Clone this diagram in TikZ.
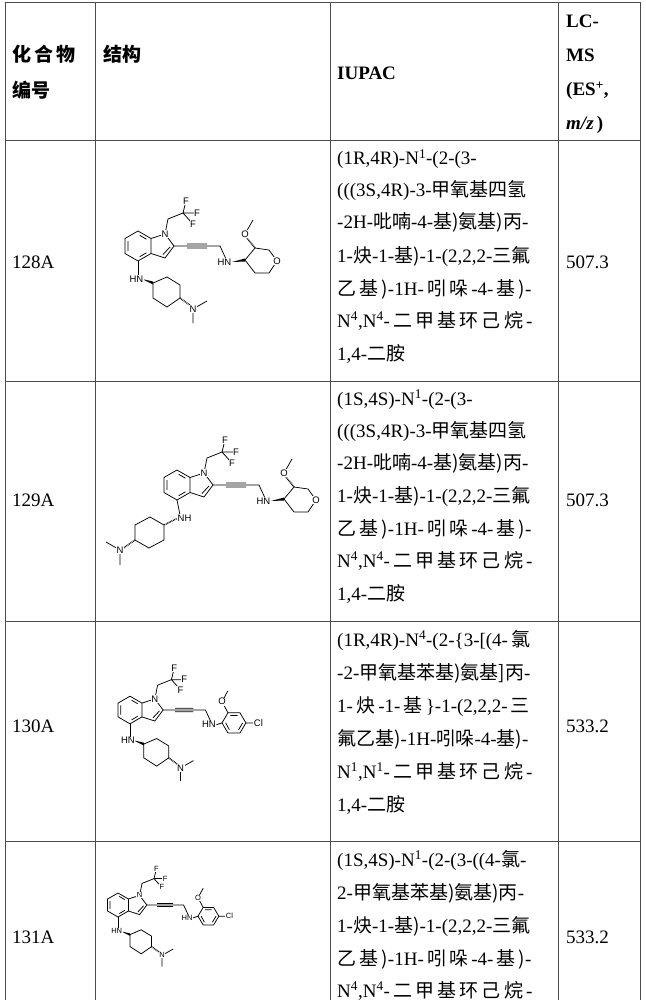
\documentclass[tikz,border=0pt]{standalone}
\usepackage{fontspec}
\setmainfont{Liberation Serif}
\setsansfont{Liberation Sans}
\newfontfamily\cjk{Noto Sans CJK SC}
\newcommand\C[1]{{\cjk #1}}
\newcommand\sps[1]{\textsuperscript{#1}}
\newcommand\afs{\fontsize{9.5}{9.5}\selectfont}
\tikzset{
 atom/.style={fill=white,inner sep=0.5pt,font=\sffamily\afs},
 bond/.style={line width=0.75pt},
 grid/.style={line width=0.6pt,draw=black!70},
 txt/.style={anchor=base west,inner sep=0pt,font=\fontsize{19}{19}\selectfont},
 hdr/.style={anchor=base west,inner sep=0pt,font=\bfseries\fontsize{19}{19}\selectfont},
}
\newcommand\molcore{%
 \draw[bond] (0,-15)--(-13,-7.5)--(-13,7.5)--(0,15)--(13,7.5)--(13,-7.5)--cycle;
 \draw[bond] (-10,-5)--(-10,5) (1.7,10.7)--(8.4,6.8) (8.4,-6.8)--(1.7,-10.7);
 \draw[bond] (13,-7.5)--(27,-12)--(36,0)--(27,12)--(13,7.5) (32,1)--(25,8.5);
 \draw[bond] (27,-12)--(30,-27)--(45,-33) (45,-33)--(48,-45) (45,-33)--(58,-33) (45,-33)--(54,-23);
 \draw[bond] (36,0)--(49,0) (49,0)--(69,0) (49,-2)--(69,-2) (49,2)--(69,2) (69,0)--(82,0)--(88,13);
 \node[atom] (nA) at (27,-12) {N};
 \node[atom] (fA) at (48,-45) {F};
 \node[atom] (fB) at (59,-33) {F};
 \node[atom] (fC) at (55,-22) {F};
 \node[atom,anchor=east] (nT) at (94,16) {HN};
}
\newcommand\cycright{%
 \draw[bond] (0,15)--(0,30);
 \fill (4,33)--(15,35.5)--(15,38.5)--cycle;
 \draw[bond] (15,37)--(29,31)--(42,39)--(42,52)--(29,61)--(15,52)--cycle;
 \draw[bond,dash pattern=on 0.8pt off 0.8pt,line width=1.5pt] (42,52)--(53,60);
 \draw[bond] (55,63)--(69,55) (55,63)--(55,77);
 \node[atom,anchor=east] (nC) at (6,33) {HN};
 \node[atom] (nM) at (55,63) {N};
}
\newcommand\cycleft{%
 \draw[bond] (0,15)--(3,30);
 \draw[bond,dash pattern=on 0.8pt off 0.8pt,line width=1.5pt] (1,33)--(-13,40);
 \draw[bond] (-13,40)--(-27,32)--(-42,40)--(-42,55)--(-28,63)--(-13,55)--cycle;
 \draw[bond,dash pattern=on 0.8pt off 0.8pt,line width=1.5pt] (-42,55)--(-55,64);
 \draw[bond] (-57,65)--(-71,57) (-57,65)--(-57,80);
 \node[atom,anchor=west] (nC) at (0,33) {NH};
 \node[atom] (nM) at (-57,65) {N};
}
\newcommand\pyran{%
 \fill (94,16)--(107,12.5)--(107,15.5)--cycle;
 \draw[bond] (107,14)--(117,2)--(131,4)--(139,15)--(131,27)--(117,27)--cycle;
 \draw[bond,dash pattern=on 0.8pt off 0.8pt,line width=1.5pt] (117,2)--(108,-9);
 \draw[bond] (107,-12)--(115,-26);
 \node[atom] (oR) at (139,15) {O};
 \node[atom] (oM) at (107,-12) {O};
}
\newcommand\aryl{%
 \draw[bond] (94,16)--(100,14);
 \draw[bond] (100,14)--(106.5,3)--(119.5,3)--(126,14)--(119.5,25)--(106.5,25)--cycle;
 \draw[bond] (109,6)--(117,6) (122.5,14)--(118,21.5) (104,14)--(108,21.5);
 \draw[bond] (106.5,3)--(100,-9)--(106.5,-21) (126,14)--(136,14);
 \node[atom] (oM) at (100,-9) {O};
 \node[atom,anchor=west] (cl) at (134,14) {Cl};
}
\begin{document}
\begin{tikzpicture}[x=1pt,y=-1pt]
\useasboundingbox (0,0) rectangle (645,1000);
% grid
\draw[grid] (5,2)--(640,2) (5,140)--(640,140) (5,381)--(640,381) (5,621)--(640,621) (5,841)--(640,841);
\draw[grid] (5,2)--(5,1000) (95,2)--(95,1000) (330,2)--(330,1000) (558,2)--(558,1000) (640,2)--(640,1000);
% header
\node[hdr] (h1) at (12,62) {\C{化\,合\,物}};
\node[hdr] (h1b) at (12,98) {\C{编号}};
\node[hdr] (h2) at (103,62) {\C{结构}};
\node[hdr] (h3) at (337,80) {IUPAC};
\node[hdr] (h4) at (566,28) {LC-};
\node[hdr] (h4b) at (566,62) {MS};
\node[hdr] (h4c) at (566,96) {(ES\sps{+},};
\node[hdr] (h4d) at (566,130) {\textit{m/z}\,)};
% row 1
\node[txt] (c1) at (12,268) {128A};
\node[txt] (m1) at (566,268) {507.3};
\begin{scope}[shift={(138,246)}]\molcore\cycright\pyran\end{scope}
\node[txt] (r1a) at (337,165) {(1R,4R)-N\sps{1}-(2-(3-};
\node[txt] (r1b) at (337,197) {(((3S,4R)-3-\C{甲氧基四氢}};
\node[txt] (r1c) at (337,229) {-2H-\C{吡喃}-4-\C{基}\C{)氨基)丙}-};
\node[txt] (r1d) at (337,262) {1-\C{炔}-1-\C{基}\C{)}-1-(2,2,2-\C{三氟}};
\node[txt] (r1e) at (337,295) {\C{乙\,基\,)}-1H-\,\C{吲\,哚}\,-4-\,\C{基\,)}-};
\node[txt] (r1f) at (337,327) {N\sps{4},N\sps{4}-\,\C{二\,甲\,基\,环\,己\,烷}\,-};
\node[txt] (r1g) at (337,360) {1,4-\C{二胺}};
% row 2
\node[txt] (c2) at (12,506) {129A};
\node[txt] (m2) at (566,506) {507.3};
\begin{scope}[shift={(177,485)}]\molcore\cycleft\pyran\end{scope}
\node[txt] (r2a) at (337,405) {(1S,4S)-N\sps{1}-(2-(3-};
\node[txt] (r2b) at (337,437) {(((3S,4R)-3-\C{甲氧基四氢}};
\node[txt] (r2c) at (337,469) {-2H-\C{吡喃}-4-\C{基}\C{)氨基)丙}-};
\node[txt] (r2d) at (337,502) {1-\C{炔}-1-\C{基}\C{)}-1-(2,2,2-\C{三氟}};
\node[txt] (r2e) at (337,535) {\C{乙\,基\,)}-1H-\,\C{吲\,哚}\,-4-\,\C{基\,)}-};
\node[txt] (r2f) at (337,567) {N\sps{4},N\sps{4}-\,\C{二\,甲\,基\,环\,己\,烷}\,-};
\node[txt] (r2g) at (337,600) {1,4-\C{二胺}};
% row 3
\node[txt] (c3) at (12,732) {130A};
\node[txt] (m3) at (566,732) {533.2};
\begin{scope}[shift={(130,710)},scale=0.92]\molcore\cycright\aryl\end{scope}
\node[txt] (r3a) at (337,646) {(1R,4R)-N\sps{4}-(2-\{3-[(4-\,\C{氯}};
\node[txt] (r3b) at (337,679) {-2-\C{甲氧基苯基}\C{)氨基]丙}-};
\node[txt] (r3c) at (337,712) {1-\,\C{炔}\,-1-\,\C{基}\,\}-1-(2,2,2-\,\C{三}};
\node[txt] (r3d) at (337,745) {\C{氟乙基}\C{)}-1H-\C{吲哚}-4-\C{基}\C{)}-};
\node[txt] (r3e) at (337,778) {N\sps{1},N\sps{1}-\,\C{二\,甲\,基\,环\,己\,烷}\,-};
\node[txt] (r3f) at (337,811) {1,4-\C{二胺}};
% row 4
\node[txt] (c4) at (12,943) {131A};
\node[txt] (m4) at (566,943) {533.2};
\begin{scope}[shift={(118,905)},scale=0.8]\renewcommand\afs{\fontsize{7.5}{7.5}\selectfont}\molcore\cycright\aryl\end{scope}
\node[txt] (r4a) at (337,866) {(1S,4S)-N\sps{1}-(2-(3-((4-\C{氯}-};
\node[txt] (r4b) at (337,899) {2-\C{甲氧基苯基}\C{)氨基)丙}-};
\node[txt] (r4c) at (337,932) {1-\C{炔}-1-\C{基}\C{)}-1-(2,2,2-\C{三氟}};
\node[txt] (r4d) at (337,965) {\C{乙\,基\,)}-1H-\,\C{吲\,哚}\,-4-\,\C{基\,)}-};
\node[txt] (r4e) at (337,997) {N\sps{4},N\sps{4}-\,\C{二\,甲\,基\,环\,己\,烷}\,-};
\end{tikzpicture}
\end{document}
